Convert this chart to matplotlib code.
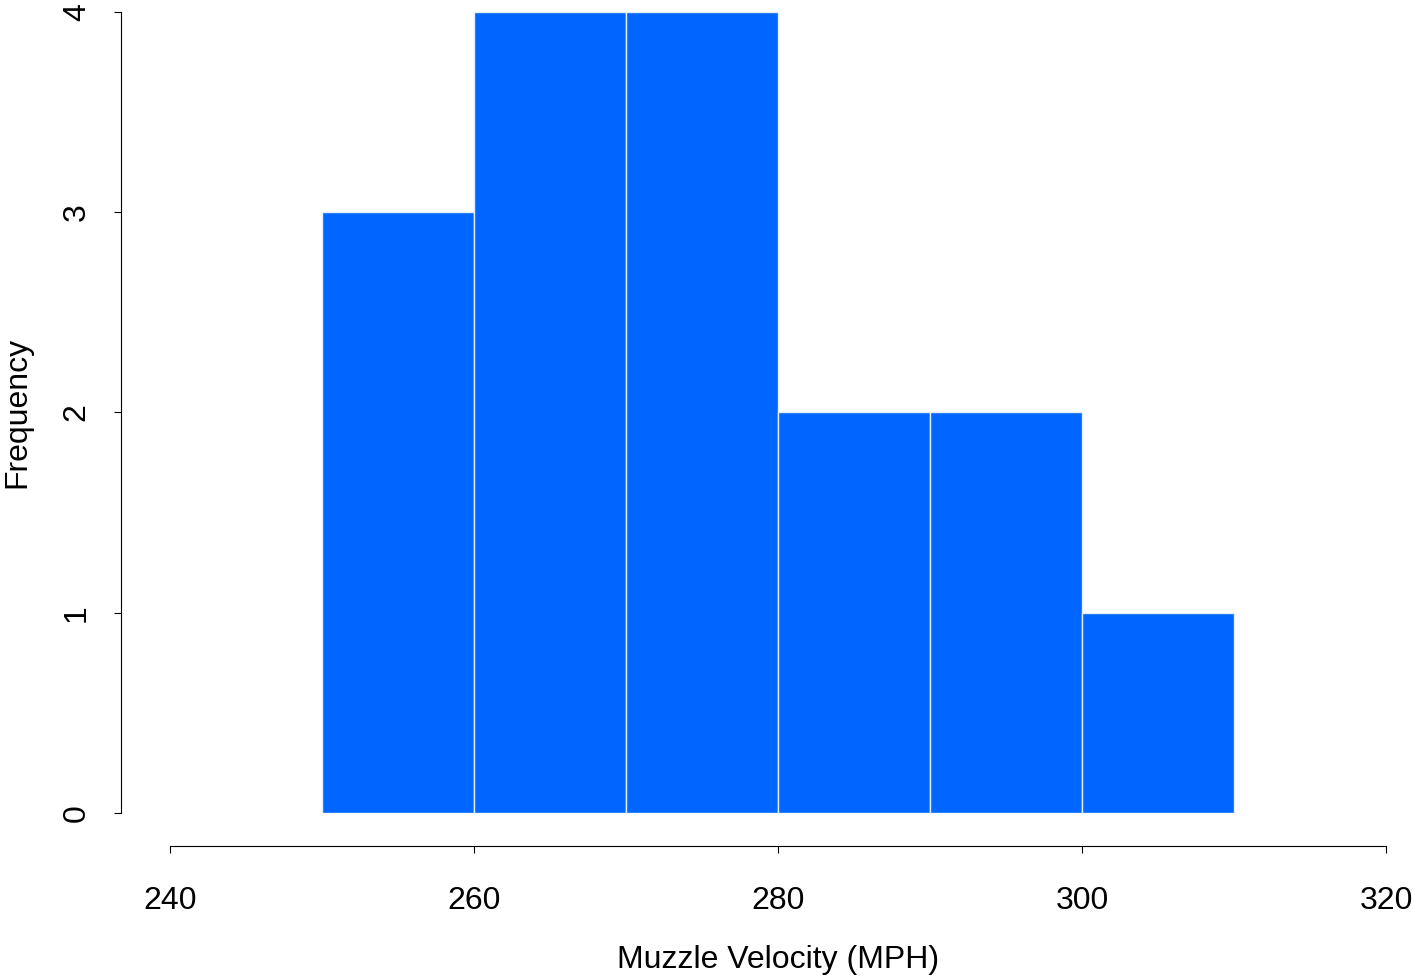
import numpy as np
import matplotlib
matplotlib.use('Agg')
import matplotlib.pyplot as plt

# histogram data: bin edges and counts
bin_edges = [250, 260, 270, 280, 290, 300, 310]
counts = [3, 4, 4, 2, 2, 1]
x_ticks = [240, 260, 280, 300, 320]
y_ticks = [0, 1, 2, 3, 4]

plt.rcParams['font.family'] = ['Liberation Sans', 'DejaVu Sans']

W, H = 1412, 977
fig = plt.figure(figsize=(W / 100, H / 100), dpi=100)
ax = fig.add_axes([170 / W, (H - 813) / H, (1386 - 170) / W, (813 - 12) / H])

left = np.array(bin_edges[:-1])
widths = np.diff(bin_edges)
ax.bar(left, counts, width=widths, align='edge', color='#0066FF',
       edgecolor='#E4ECFA', linewidth=1.0)

ax.set_xlim(240, 320)
ax.set_ylim(0, 4)

for s in ['top', 'right']:
    ax.spines[s].set_visible(False)
ax.spines['left'].set_position(('outward', 49 * 0.72))
ax.spines['bottom'].set_position(('outward', 33 * 0.72))
ax.spines['left'].set_bounds(0, 4)
ax.spines['bottom'].set_bounds(240, 320)
for s in ['left', 'bottom']:
    ax.spines[s].set_linewidth(0.8)

ax.set_xticks(x_ticks)
ax.set_yticks(y_ticks)
ax.tick_params(axis='both', direction='out', length=5, width=0.8, labelsize=23)
ax.tick_params(axis='x', pad=24)
ax.tick_params(axis='y', pad=16)
for lbl in ax.get_yticklabels():
    lbl.set_rotation(90)
    lbl.set_va('center')

ax.set_xlabel('Muzzle Velocity (MPH)', fontsize=23, labelpad=21)
ax.set_ylabel('Frequency', fontsize=23, labelpad=21)

fig.savefig('out.png', dpi=100)
